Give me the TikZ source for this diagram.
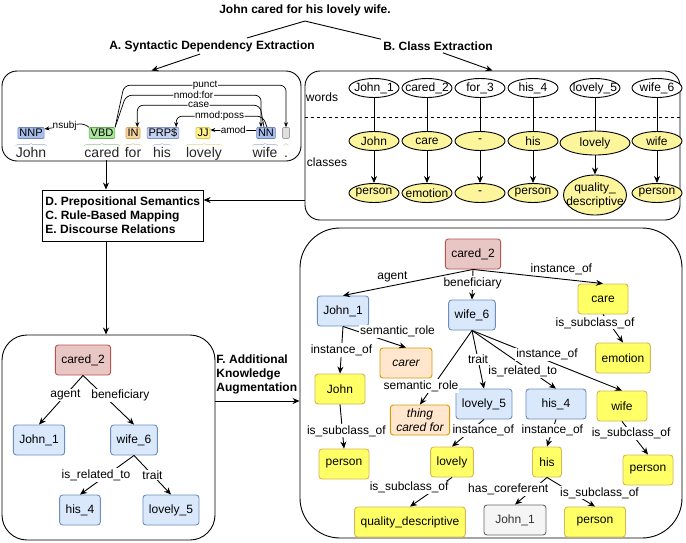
\documentclass[tikz,border=0pt]{standalone}
\usepackage{fontspec}
\setmainfont{Liberation Sans}
\usepackage{tikz}
\usetikzlibrary{arrows.meta}
\usetikzlibrary{shapes.geometric, positioning}
\usetikzlibrary{decorations.pathreplacing}

\definecolor{predFill}{HTML}{E8C6C4}
\definecolor{predLine}{HTML}{B85450}
\definecolor{instFill}{HTML}{DAE8FC}
\definecolor{instLine}{HTML}{6C8EBF}
\definecolor{conFill}{HTML}{FFFF66}
\definecolor{conLine}{HTML}{D6B656}
\definecolor{roleFill}{HTML}{FFE6CC}
\definecolor{roleLine}{HTML}{D79B00}
\definecolor{corFill}{HTML}{F5F5F5}
\definecolor{corLine}{HTML}{666666}
\definecolor{corText}{HTML}{333333}
\definecolor{clsFill}{HTML}{FCF59C}
\definecolor{nnpFill}{HTML}{A7BEEB}
\definecolor{nnpLine}{HTML}{6C86C7}
\definecolor{vbdFill}{HTML}{A9E59B}
\definecolor{vbdLine}{HTML}{5DB04A}
\definecolor{inFill}{HTML}{F6D39F}
\definecolor{inLine}{HTML}{D9A254}
\definecolor{prpFill}{HTML}{C3D2F2}
\definecolor{prpLine}{HTML}{7C93CF}
\definecolor{jjFill}{HTML}{FFF38E}
\definecolor{jjLine}{HTML}{D9C64E}
\definecolor{dotFill}{HTML}{E0E0E0}
\definecolor{dotLine}{HTML}{A0A0A0}

\begin{document}
\begin{tikzpicture}[x=1pt,y=-1pt,>={Stealth[length=7pt,width=6pt]},line width=.9pt,node distance=53pt,font=\fontsize{12}{14}\selectfont]
	\tikzstyle{heading}=[font=\fontsize{12}{14}\selectfont\bfseries,inner sep=2pt]
	\tikzstyle{frame}=[draw,rounded corners=15pt,inner sep=0pt]
	\tikzstyle{tagbox}=[draw,rounded corners=1pt,inner xsep=1.5pt,inner ysep=0pt,minimum height=11pt,font=\fontsize{11}{11}\selectfont,line width=.6pt]
	\tikzstyle{tok}=[anchor=base,inner sep=0pt,text height=10pt,text depth=3pt,font=\fontsize{14}{16}\selectfont,text=black!85]
	\tikzstyle{deplab}=[fill=white,inner sep=.5pt,font=\fontsize{10}{10}\selectfont]
	\tikzstyle{dep}=[->,>={Stealth[length=5pt,width=4pt]},line width=.7pt,rounded corners=6pt]
	\tikzstyle{word}=[draw,ellipse,fill=white,inner xsep=-8pt,inner ysep=-2pt,minimum width=50pt,minimum height=19pt]
	\tikzstyle{cls}=[word,fill=clsFill]
	\tikzstyle{gnode}=[draw,rounded corners=3pt,minimum height=30pt,inner xsep=6pt,inner ysep=1pt]
	\tikzstyle{pred}=[gnode,fill=predFill,draw=predLine]
	\tikzstyle{inst}=[gnode,fill=instFill,draw=instLine]
	\tikzstyle{concept}=[gnode,fill=conFill,draw=conLine,minimum width=50pt]
	\tikzstyle{srole}=[gnode,fill=roleFill,draw=roleLine,minimum width=52pt,font=\fontsize{12}{14}\selectfont\itshape]
	\tikzstyle{coref}=[gnode,fill=corFill,draw=corLine,text=corText]
	\tikzstyle{elab}=[fill=white,inner sep=1pt]
	\useasboundingbox (0,0) rectangle (686,542);

	% frames
	\node[frame,minimum width=299pt,minimum height=90pt] (synbox) at (151.5,116) {};
	\node[frame,minimum width=375pt,minimum height=149pt] (classbox) at (492.5,145.5) {};
	\node[frame,rounded corners=25pt,minimum width=213pt,minimum height=205pt] (drsbox) at (108.5,437.5) {};
	\node[frame,rounded corners=40pt,minimum width=382pt,minimum height=310pt] (kgbox) at (491,383) {};

	% sentence and the two extraction steps
	\node[heading] (sent) at (305,10) {John cared for his lovely wife.};
	\node[heading] (secA) at (212,46) {A. Syntactic Dependency Extraction};
	\node[heading] (secB) at (438,46) {B. Class Extraction};
	\draw ([yshift=-3pt]sent.south) -- ([xshift=35pt]secA.north);
	\draw ([yshift=-3pt]sent.south) -- (secB.north west);
	\draw[->] ([xshift=-12pt]secA.south) -- (synbox.north);
	\draw[->] ([xshift=5pt]secB.south) -- (classbox.north);

	% A: dependency parse
	\node[tagbox,fill=nnpFill,draw=nnpLine] (nnp) at (31,133) {NNP};
	\node[tagbox,fill=vbdFill,draw=vbdLine] (vbd) at (102,133) {VBD};
	\node[tagbox,fill=inFill,draw=inLine] (in) at (133,133) {IN};
	\node[tagbox,fill=prpFill,draw=prpLine] (prp) at (163,133) {PRP\$};
	\node[tagbox,fill=jjFill,draw=jjLine] (jj) at (203,133) {JJ};
	\node[tagbox,fill=nnpFill,draw=nnpLine] (nn) at (266,133) {NN};
	\node[tagbox,fill=dotFill,draw=dotLine,minimum width=7pt] (dot) at (286,133) {};
	\node[tok] (tJohn) at (31,157) {John};
	\node[tok] (tCared) at (102,157) {cared};
	\node[tok] (tFor) at (133,157) {for};
	\node[tok] (tHis) at (162,157) {his};
	\node[tok] (tLovely) at (204,157) {lovely};
	\node[tok] (tWife) at (265,157) {wife};
	\node[tok] (tDot) at (286,157) {.};
	\foreach \t/\c in {tJohn/nnpLine,tCared/vbdLine,tFor/inLine,tHis/prpLine,tLovely/jjLine,tWife/nnpLine,tDot/dotLine}
		\draw[\c!70,line width=.4pt,decorate,decoration={brace,amplitude=2pt}] ([yshift=1pt]\t.north west) -- ([yshift=1pt]\t.north east);
	\draw[dep] (vbd.north east) -- ++(9,-42) -| node[deplab,pos=.25]{punct} (dot.north);
	\draw[dep] (vbd.north east) -- ++(11,-32) -| node[deplab,pos=.25]{nmod:for} ([xshift=-5pt]nn.north);
	\draw[dep] ([xshift=-2pt]nn.north) -- ++(-4,-22) -| node[deplab,pos=.25]{case} ([xshift=-3pt]in.north east);
	\draw[dep] ([xshift=1pt]nn.north) -- ++(-4,-11) -| node[deplab,pos=.25]{nmod:poss} ([xshift=-3pt]prp.north east);
	\draw[dep] (vbd.north west) -- ++(-4,-4) -- node[deplab]{nsubj} ([yshift=4pt]nnp.east);
	\draw[dep] ([yshift=3pt]nn.west) -- node[deplab]{amod} ([yshift=3pt]jj.east);

	% B: words and their classes
	\node (lblwords) at (322,97) {words};
	\node (lblclasses) at (327,162) {classes};
	\coordinate (split) at ([yshift=28.5pt]classbox.west);
	\draw[dashed] (split) -- (split -| classbox.east);
	\node[word] (wJohn) at (374,88) {John\_1};
	\node[word] (wCared) at (427,88) {cared\_2};
	\node[word] (wFor) at (480,88) {for\_3};
	\node[word] (wHis) at (533,88) {his\_4};
	\node[word] (wLovely) at (595,88) {lovely\_5};
	\node[word] (wWife) at (657,88) {wife\_6};
	\node[cls] (cJohn) [below of=wJohn] {John};
	\node[cls] (cCared) [below of=wCared] {care};
	\node[cls] (cFor) [below of=wFor] {-};
	\node[cls] (cHis) [below of=wHis] {his};
	\node[cls,minimum width=70pt,minimum height=24pt] (cLovely) [below of=wLovely,node distance=55pt] {lovely};
	\node[cls] (cWife) [below of=wWife] {wife};
	\node[cls] (kJohn) [below of=cJohn,node distance=52pt] {person};
	\node[cls] (kCared) [below of=cCared,node distance=52pt] {emotion};
	\node[cls] (kFor) [below of=cFor,node distance=52pt] {-};
	\node[cls] (kHis) [below of=cHis,node distance=52pt] {person};
	\node[cls,align=center,minimum height=40pt,minimum width=63pt] (kLovely) [below of=cLovely,node distance=52pt] {quality\_\\descriptive};
	\node[cls] (kWife) [below of=cWife,node distance=52pt] {person};
	\foreach \n in {John,Cared,For,His,Lovely,Wife}
		\draw[->] (w\n) -- (c\n) (c\n) -- (k\n);

	% C, D, E
	\node[draw,align=left,anchor=west,font=\fontsize{12}{14}\selectfont\bfseries,inner xsep=3pt,inner ysep=4pt,minimum height=51pt] (methbox) at (42,215.5) {D. Prepositional Semantics\\C. Rule-Based Mapping\\E. Discourse Relations};
	\coordinate (drop) at ([xshift=4pt]tCared.south);
	\draw[->] (drop) -- (drop |- methbox.north);
	\coordinate (feed) at ([yshift=-54.5pt]classbox.west);
	\draw[->] (feed) -- (feed -| methbox.east);
	\draw[->] (drop |- methbox.south) -- (drop |- drsbox.north);

	% rule-based graph
	\node[pred] (lCared) at (83,360) {cared\_2};
	\node[inst] (lJohn) at (39,440) {John\_1};
	\node[inst] (lWife) at (134,440) {wife\_6};
	\node[inst] (lHis) at (80,510) {his\_4};
	\node[inst] (lLovely) at (171,510) {lovely\_5};
	\draw[->] (lCared.south) -- node[elab,pos=.4]{agent} (lJohn.north);
	\draw[->] (lCared.south) -- node[elab,pos=.4,xshift=17pt]{beneficiary} (lWife.north);
	\draw[->] (lWife.south) -- node[elab,xshift=-11pt]{is\_related\_to} (lHis.north);
	\draw[->] (lWife.south) -- node[elab]{trait} (lLovely.north);

	% F: augmentation
	\node[heading,align=left,anchor=north west] (augm) at (214,352) {F. Additional\\Knowledge\\Augmentation};
	\coordinate (aug) at ([yshift=36.5pt]drsbox.east);
	\draw[->] (aug) -- (aug -| kgbox.west);

	% augmented graph
	\node[pred] (rCared) at (473,254) {cared\_2};
	\node[inst] (rJohnA) at (343,311) {John\_1};
	\node[inst] (rWife6) at (472,315) {wife\_6};
	\node[concept] (rCare) at (603,299) {care};
	\node[concept] (rEmotion) at (623,358) {emotion};
	\node[srole] (rCarer) at (406,363) {carer};
	\node[concept] (rJohn) at (340,389) {John};
	\node[srole,align=center,inner ysep=0pt] (rThing) at (420,420) {thing\\cared for};
	\node[inst] (rLovely5) at (484,404) {lovely\_5};
	\node[inst,minimum width=60pt] (rHis4) at (556,404) {his\_4};
	\node[concept] (rWife) at (622,406) {wife};
	\node[concept] (rPersonA) at (344,464) {person};
	\node[concept,minimum width=40pt] (rLovely) at (452,462) {lovely};
	\node[concept,minimum width=29pt,inner xsep=3pt] (rHis) at (547,462) {his};
	\node[concept] (rPersonB) at (648,470) {person};
	\node[concept] (rQuality) at (410,522) {quality\_descriptive};
	\node[coref,minimum width=62pt] (rJohnB) at (515,520) {John\_1};
	\node[concept,minimum width=61pt] (rPersonC) at (595,522) {person};
	\draw[->] (rCared.south) -- node[pos=.62,above]{agent} (rJohnA.north);
	\draw[->] (rCared.south) -- node[elab,pos=.45]{beneficiary} (rWife6.north);
	\draw[->] (rCared.south) -- node[pos=.68,above]{instance\_of} (rCare.north);
	\draw[->] (rCare.south) -- node[elab,pos=.3,xshift=-14pt]{is\_subclass\_of} (rEmotion.north);
	\draw[->] (rJohnA.south) -- node[elab,pos=.25,anchor=west]{semantic\_role} (rCarer.north);
	\draw[->] (rJohnA.south) -- node[elab]{instance\_of} (rJohn.north);
	\draw[->] (rWife6.south) -- node[elab,pos=.75,xshift=-12pt]{semantic\_role} (rThing.north);
	\draw[->] (rWife6.south) -- node[elab]{trait} (rLovely5.north);
	\draw[->] (rWife6.south) -- node[elab,pos=.7,xshift=-8pt]{is\_related\_to} (rHis4.north);
	\draw[->] (rWife6.south) -- node[elab,pos=.5,yshift=6pt]{instance\_of} (rWife.north);
	\draw[->] (rJohn.south) -- node[elab,pos=.6,xshift=4pt]{is\_subclass\_of} (rPersonA.north);
	\draw[->] (rLovely5.south) -- node[elab,pos=.4,xshift=12pt]{instance\_of} (rLovely.north);
	\draw[->] (rHis4.south) -- node[elab,pos=.4]{instance\_of} (rHis.north);
	\draw[->] (rWife.south) -- node[elab,pos=.35]{is\_subclass\_of} (rPersonB.north);
	\draw[->] (rLovely.south) -- node[elab,pos=.33,xshift=-29pt]{is\_subclass\_of} (rQuality.north);
	\draw[->] (rHis.south) -- node[elab,pos=.43,xshift=-25pt]{has\_coreferent} (rJohnB.north);
	\draw[->] (rHis.south) -- node[elab,pos=.53,xshift=27pt]{is\_subclass\_of} (rPersonC.north);
\end{tikzpicture}
\end{document}
